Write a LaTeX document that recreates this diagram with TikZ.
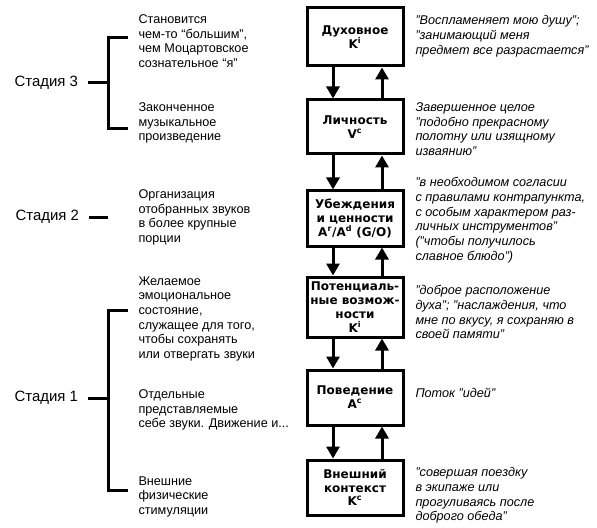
\documentclass[tikz,border=0pt]{standalone}
\usepackage{fontspec}
\setmainfont{Liberation Sans}
\newfontfamily\boxfont{DejaVu Sans}
\usetikzlibrary{arrows.meta}

\tikzset{every picture/.style={line width=0.75pt}}
\tikzset{
  levelbox/.style={draw, line width=2.25pt, minimum width=72pt, inner sep=0pt, align=center,
    font=\boxfont\bfseries\fontsize{9}{10.4}\selectfont},
  lefttext/.style={anchor=north west, inner sep=0pt, align=left, font=\fontsize{9.5}{11}\selectfont},
  righttext/.style={anchor=north west, inner sep=0pt, align=left, font=\itshape\fontsize{9.5}{11}\selectfont},
  stagelabel/.style={anchor=east, inner sep=0pt, outer xsep=7.5pt, font=\fontsize{11.2}{13}\selectfont},
  flow/.style={line width=2.25pt, -{Triangle[width=9.75pt,length=9pt]}},
  bracket/.style={line width=2.25pt}
}

\begin{document}
\begin{tikzpicture}[x=0.75pt,y=0.75pt,yscale=-1,xscale=1]
\useasboundingbox (0,0) rectangle (597,528); %set diagram size 597 x 528

%Shape: Box [id:dux]
\node [levelbox, minimum height=43.5pt] (dux) at (355,37) {Духовное\\K\textsuperscript{i}};
%Shape: Box [id:lich]
\node [levelbox, minimum height=40.5pt] (lich) at (355,127) {Личность\\V\textsuperscript{c}};
%Shape: Box [id:ubezh]
\node [levelbox, minimum height=41.25pt] (ubezh) at (355,218.5) {Убеждения\\и ценности\\A\textsuperscript{r}/A\textsuperscript{d} (G/O)};
%Shape: Box [id:poten]
\node [levelbox, minimum height=45pt] (poten) at (355,307) {Потенциаль-\\ные возмож-\\ности\\K\textsuperscript{i}};
%Shape: Box [id:poved]
\node [levelbox, minimum height=41.25pt] (poved) at (355,397.5) {Поведение\\A\textsuperscript{c}};
%Shape: Box [id:vnesh]
\node [levelbox, minimum height=41.25pt] (vnesh) at (355,487.5) {Внешний\\контекст\\K\textsuperscript{c}};

%Straight Lines [down arrows]
\draw [flow] ([xshift=-16.5pt]dux.south) -- ([xshift=-16.5pt]lich.north);
\draw [flow] ([xshift=-16.5pt]lich.south) -- ([xshift=-16.5pt]ubezh.north);
\draw [flow] ([xshift=-16.5pt]ubezh.south) -- ([xshift=-16.5pt]poten.north);
\draw [flow] ([xshift=-16.5pt]poten.south) -- ([xshift=-16.5pt]poved.north);
\draw [flow] ([xshift=-16.5pt]poved.south) -- ([xshift=-16.5pt]vnesh.north);
%Straight Lines [up arrows]
\draw [flow] ([xshift=20.25pt]lich.north) -- ([xshift=20.25pt]dux.south);
\draw [flow] ([xshift=20.25pt]ubezh.north) -- ([xshift=20.25pt]lich.south);
\draw [flow] ([xshift=20.25pt]poten.north) -- ([xshift=20.25pt]ubezh.south);
\draw [flow] ([xshift=20.25pt]poved.north) -- ([xshift=20.25pt]poten.south);
\draw [flow] ([xshift=20.25pt]vnesh.north) -- ([xshift=20.25pt]poved.south);

% Text Node
\node [stagelabel] (st3) at (88,83) {Стадия 3};
% Text Node
\node [stagelabel] (st2) at (89,217) {Стадия 2};
% Text Node
\node [stagelabel] (st1) at (88,398) {Стадия 1};

%Shape: Bracket [stage 3]
\coordinate (s3top) at (128,38);
\coordinate (s3bot) at (128,129);
\coordinate (s3mid) at (108,83);
\draw [bracket] (s3top) -- (108,38) -- (108,129) -- (s3bot);
\draw [bracket] (st3.east) -- (s3mid);
%Straight Lines [stage 2]
\coordinate (s2end) at (108,217);
\draw [bracket] (st2.east) -- (s2end);
%Shape: Bracket [stage 1]
\coordinate (s1top) at (128,310);
\coordinate (s1bot) at (128,490);
\coordinate (s1mid) at (108,398);
\draw [bracket] (s1top) -- (108,310) -- (108,490) -- (s1bot);
\draw [bracket] (st1.east) -- (s1mid);

% Text Node
\node [lefttext] (l1) at (138,14) {Становится\\чем-то “большим”,\\чем Моцартовское\\сознательное “я”};
% Text Node
\node [lefttext] (l2) at (138,102) {Законченное\\музыкальное\\произведение};
% Text Node
\node [lefttext] (l3) at (138,189) {Организация\\отобранных звуков\\в более крупные\\порции};
% Text Node
\node [lefttext] (l4) at (138,276) {Желаемое\\эмоциональное\\состояние,\\служащее для того,\\чтобы сохранять\\или отвергать звуки};
% Text Node
\node [lefttext] (l5) at (138,389) {Отдельные\\представляемые\\себе звуки. Движение и...};
% Text Node
\node [lefttext] (l6) at (138,476) {Внешние\\физические\\стимуляции};

% Text Node
\node [righttext] (r1) at (415,15) {"Воспламеняет мою душу";\\"занимающий меня\\предмет все разрастается"};
% Text Node
\node [righttext] (r2) at (415,102) {Завершенное целое\\"подобно прекрасному\\полотну или изящному\\изваянию"};
% Text Node
\node [righttext] (r3) at (415,177) {"в необходимом согласии\\с правилами контрапункта,\\с особым характером раз-\\личных инструментов"\\("чтобы получилось\\славное блюдо")};
% Text Node
\node [righttext] (r4) at (415,285) {"доброе расположение\\духа"; "наслаждения, что\\мне по вкусу, я сохраняю в\\своей памяти"};
% Text Node
\node [righttext] (r5) at (415,388) {Поток "идей"};
% Text Node
\node [righttext] (r6) at (415,467) {"совершая поездку\\в экипаже или\\прогуливаясь после\\доброго обеда"};

\end{tikzpicture}
\end{document}
